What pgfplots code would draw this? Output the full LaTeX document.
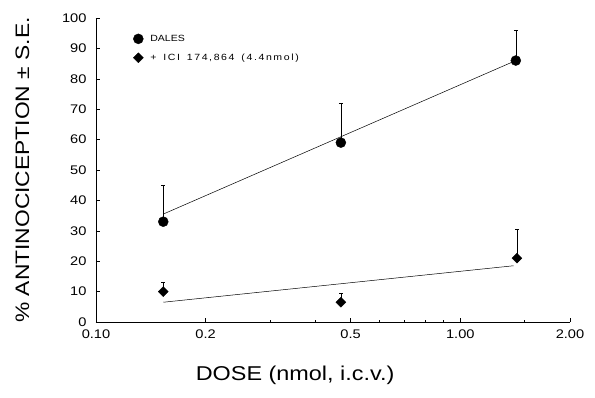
\documentclass[border=0pt]{standalone}
\usepackage{fontspec}
\setmainfont[FakeStretch=1.17]{Liberation Sans}
\newfontfamily\legwide[FakeStretch=1.17, LetterSpace=18, WordSpace=1.5]{Liberation Sans}
\usepackage{pgfplots}
\pgfplotsset{compat=1.18}
\begin{document}
\begin{tikzpicture}[x=1pt,y=1pt]
\useasboundingbox (0,0) rectangle (595,398);
\begin{axis}[
  at={(96pt,76pt)}, anchor=south west,
  scale only axis, width=474pt, height=304pt,
  xmode=log, xmin=0.1, xmax=2, ymin=0, ymax=100,
  axis lines=left, axis line style={-, line width=0.6pt},
  xtick={0.1,0.2,0.5,1,2},
  xticklabels={0.10,0.2,0.5,1.00,2.00},
  minor xtick={0.3,0.4,0.6,0.7,0.8,0.9,1.5},
  ytick={0,10,...,100},
  tick align=inside, major tick length=4pt, minor tick length=2pt,
  tick style={line width=0.5pt, black},
  /pgf/number format/assume math mode=true,
  ticklabel style={font=\fontsize{12.5}{14}\selectfont},
  xticklabel style={yshift=-4pt},
  yticklabel style={xshift=-6pt},
  xlabel={DOSE (nmol, i.c.v.)},
  ylabel={\% ANTINOCICEPTION ± S.E.},
  xlabel style={font=\fontsize{20}{22}\selectfont, at={(axis description cs:0.42,-0.175)}, anchor=center},
  ylabel style={font=\fontsize{19.5}{21}\selectfont, at={(axis description cs:-0.155,0.5)}, anchor=center},
  legend style={draw=none, fill=none, at={(rel axis cs:0.072,0.958)}, anchor=north west,
    font=\fontsize{9}{11}\selectfont, row sep=7pt},
  legend cell align=left,
  legend image code/.code={\draw[#1] plot coordinates {(0.25cm,0cm)};},
  clip=false,
]
\addplot[black, line width=0.5pt, forget plot] coordinates {(0.153,35.5) (1.42,86)};
\addplot[black, line width=0.5pt, forget plot] coordinates {(0.153,6.5) (1.40,18.5)};
\addplot[only marks, mark=*, mark size=5pt, black,
  error bars/.cd, y dir=plus, y explicit, error mark=-,
  error mark options={rotate=90, mark size=2pt, black, line width=0.5pt},
  error bar style={line width=0.5pt}]
  coordinates {(0.153,33) +- (0,12) (0.47,59) +- (0,13) (1.42,86) +- (0,10)};
\addlegendentry{\hspace{5pt}DALES}
\addplot[only marks, mark=square*, mark options={rotate=45}, mark size=3.5pt, black,
  error bars/.cd, y dir=plus, y explicit, error mark=-,
  error mark options={rotate=90, mark size=1.8pt, black, line width=0.5pt},
  error bar style={line width=0.5pt}]
  coordinates {(0.153,10) +- (0,3) (0.47,6.5) +- (0,3) (1.43,21) +- (0,9.5)};
\addlegendentry{\hspace{5pt}{\legwide + ICI 174,864 (4.4nmol)}}
\end{axis}
\end{tikzpicture}
\end{document}
